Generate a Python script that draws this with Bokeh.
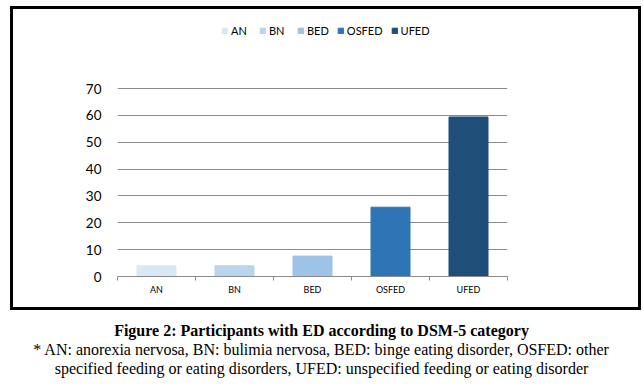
from bokeh.plotting import figure
from bokeh.layouts import column, row
from bokeh.models import (Range1d, LinearAxis, FixedTicker, Label, Spacer,
                          Legend, LegendItem, ColumnDataSource)
from bokeh.embed import file_html
from bokeh.resources import INLINE

categories = ["AN", "BN", "BED", "OSFED", "UFED"]
values = [4.0, 4.0, 7.6, 25.8, 59.4]
colors = ["#dae8f6", "#bad4ee", "#9dc3e6", "#2e75b6", "#1f4e79"]
y_ticks = [0, 10, 20, 30, 40, 50, 60, 70]
caption_title = "Figure 2: Participants with ED according to DSM-5 category"
caption_lines = [
    "* AN: anorexia nervosa, BN: bulimia nervosa, BED: binge eating disorder, OSFED: other",
    "specified feeding or eating disorders, UFED: unspecified feeding or eating disorder",
]

# chart (CSS border drawn inside the element, canvas offset by the border)
W, H = 631, 304
FL, FR, FT, FB = 104, 494, 8, 267
TOP70 = 79  # canvas y of the 70 gridline
n = len(categories)
centers = [i + 0.5 for i in range(n)]
bounds = list(range(n + 1))
y_end = 70 * (FB - FT) / (FB - TOP70)

p = figure(width=W, height=H, x_range=Range1d(0, n),
           y_range=Range1d(0, y_end), output_backend="svg", toolbar_location=None,
           x_axis_location=None, min_border_left=FL, min_border_right=W - FR,
           min_border_top=FT, min_border_bottom=H - FB)
p.outline_line_color = None
p.background_fill_color = "white"
p.border_fill_color = "white"
p.styles = {"border": "3.5px solid black", "box-sizing": "border-box"}

src = ColumnDataSource(dict(x=centers, cat=categories, val=values, col=colors))
r = p.vbar(x="x", top="val", width=0.5, color="col", source=src)

# y axis
p.yaxis.ticker = FixedTicker(ticks=y_ticks)
p.yaxis.axis_line_color = None
p.yaxis.major_tick_line_color = None
p.yaxis.major_tick_out = 0
p.yaxis.major_tick_in = 0
p.yaxis.minor_tick_line_color = None
p.yaxis.major_label_standoff = 16
p.yaxis.major_label_text_font = "Lato"
p.yaxis.major_label_text_font_size = "13.5px"
p.yaxis.major_label_text_color = "#000000"
p.xgrid.grid_line_color = None
p.ygrid.ticker = FixedTicker(ticks=y_ticks)
p.ygrid.grid_line_color = "#8a8a8a"
p.ygrid.grid_line_width = 1

# boundary tick axis (zero line)
tick_axis = LinearAxis(ticker=FixedTicker(ticks=bounds),
                       major_label_overrides={b: "" for b in bounds},
                       major_label_standoff=0, major_tick_in=0, major_tick_out=4,
                       minor_tick_line_color=None, axis_line_color="#8a8a8a",
                       major_tick_line_color="#8a8a8a", major_label_text_font_size="1px")
p.add_layout(tick_axis, "below")

cat_axis = LinearAxis(ticker=FixedTicker(ticks=centers),
                      major_label_overrides={c: lab for c, lab in zip(centers, categories)},
                      axis_line_color=None, major_tick_line_color=None,
                      major_tick_out=0, major_tick_in=0,
                      minor_tick_line_color=None, major_label_standoff=3,
                      major_label_text_font="Lato", major_label_text_font_size="9px",
                      major_label_text_color="#000000")
p.add_layout(cat_axis, "below")

# legend (inside the frame, above the plotted area)
items = [LegendItem(label=c, renderers=[r], index=i) for i, c in enumerate(categories)]
legend = Legend(items=items, orientation="horizontal", location=(104, 239),
                padding=0, margin=0, spacing=8, label_standoff=3,
                glyph_width=7, glyph_height=7, label_text_font="Lato",
                label_text_font_size="11px", label_text_color="#000000",
                border_line_color=None, background_fill_alpha=0)
p.add_layout(legend, "center")

# caption
CW, CH = 642, 72
cap = figure(width=CW, height=CH, x_range=Range1d(0, CW), y_range=Range1d(CH, 0),
             toolbar_location=None, output_backend="svg",
             x_axis_location=None, y_axis_location=None,
             min_border_left=0, min_border_right=0, min_border_top=0, min_border_bottom=0)
cap.outline_line_color = None
cap.grid.visible = False
cap.add_layout(Label(x=321, y=20, text=caption_title, text_font="Liberation Serif",
                     text_font_style="bold", text_font_size="16px", text_align="center",
                     text_baseline="middle", text_color="black"))
for k, line in enumerate(caption_lines):
    cap.add_layout(Label(x=321, y=39 + 18.5 * k, text=line, text_font="Liberation Serif",
                         text_font_size="16px", text_align="center",
                         text_baseline="middle", text_color="black"))

layout = column(Spacer(width=10, height=6),
                row(Spacer(width=10, height=H), p, spacing=0),
                cap, spacing=0)
open("out.html", "w").write(file_html(layout, INLINE))
